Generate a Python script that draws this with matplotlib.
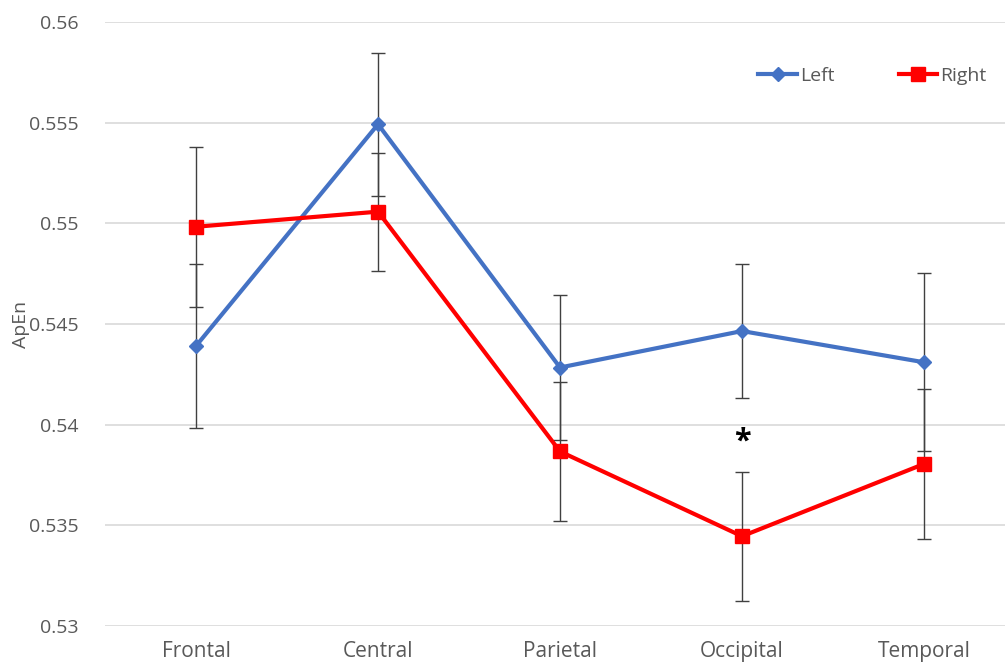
import matplotlib
matplotlib.use("Agg")
import matplotlib.pyplot as plt
from matplotlib.lines import Line2D

categories = ["Frontal", "Central", "Parietal", "Occipital", "Temporal"]
left_vals = [0.54391, 0.55492, 0.54284, 0.54465, 0.54310]
left_err = [0.00409, 0.00355, 0.00360, 0.00332, 0.00441]
right_vals = [0.54983, 0.55058, 0.53867, 0.53446, 0.53805]
right_err = [0.00398, 0.00293, 0.00344, 0.00320, 0.00371]
yticks = [0.53, 0.535, 0.54, 0.545, 0.55, 0.555, 0.56]
ytick_labels = ["0.53", "0.535", "0.54", "0.545", "0.55", "0.555", "0.56"]
star_pos = (3, 0.53915)

plt.rcParams['font.family'] = ['Open Sans', 'DejaVu Sans']

fig = plt.figure(figsize=(10.05, 6.66), dpi=100)
ax = fig.add_axes([0.1045, 0.06, 0.8955, 0.907])

x = list(range(len(categories)))
ax.errorbar(x, left_vals, yerr=left_err, color="#4472C4", lw=3, marker="D",
            markersize=7, ecolor="#404040", elinewidth=1, capsize=5, capthick=1,
            zorder=3)
ax.errorbar(x, right_vals, yerr=right_err, color="#FF0000", lw=3, marker="s",
            markersize=10, ecolor="#404040", elinewidth=1, capsize=5, capthick=1,
            zorder=4)

ax.set_ylim(0.53, 0.56)
ax.set_xlim(-0.5, 4.445)
ax.set_yticks(yticks)
ax.set_yticklabels(ytick_labels)
ax.set_xticks(x)
ax.set_xticklabels(categories)
ax.tick_params(axis="y", length=0, labelsize=14, colors="#595959", pad=19)
ax.tick_params(axis="x", length=0, labelsize=15, colors="#595959", pad=11)
ax.grid(axis="y", color="#D9D9D9", lw=1.2)
ax.set_axisbelow(True)
for s in ax.spines.values():
    s.set_visible(False)

ax.set_ylabel("ApEn", fontsize=14, color="#595959")
ax.yaxis.set_label_coords(-0.083, 0.5)

ax.text(star_pos[0], star_pos[1], "*", fontsize=22, fontweight="bold",
        ha="center", va="center", color="black")

handles = [
    Line2D([], [], color="#4472C4", lw=3, marker="D", markersize=7),
    Line2D([], [], color="#FF0000", lw=3, marker="s", markersize=10),
]
ax.legend(handles, ["Left", "Right"], loc="upper right",
          bbox_to_anchor=(0.999, 0.955), ncol=2, frameon=False,
          fontsize=14, labelcolor="#595959", handlelength=2.0, handletextpad=0.15,
          columnspacing=3.3)

fig.savefig("out.png", dpi=100)
